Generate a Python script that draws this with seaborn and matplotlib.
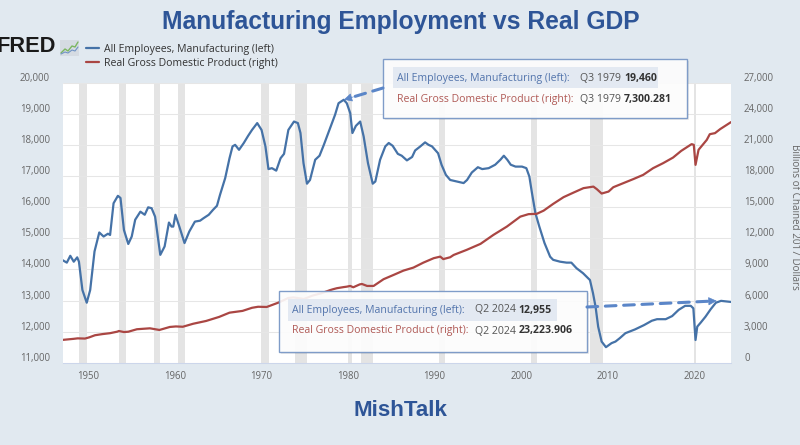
import matplotlib
matplotlib.use("Agg")
import matplotlib.pyplot as plt
import seaborn as sns
import pandas as pd
from matplotlib.ticker import FuncFormatter
from matplotlib.transforms import ScaledTranslation
from matplotlib.patches import Rectangle

# ---------------- data ----------------
emp_dates = [1947.00, 1947.50, 1947.90, 1948.30, 1948.70, 1948.90, 1949.30, 1949.80, 1950.20, 1950.70,
             1951.25, 1951.75, 1952.25, 1952.50, 1952.90, 1953.40, 1953.70, 1954.10, 1954.60, 1955.00,
             1955.40, 1956.00, 1956.50, 1956.90, 1957.30, 1957.70, 1958.30, 1958.80, 1959.30, 1959.60,
             1959.80, 1960.05, 1960.50, 1961.10, 1961.65, 1962.30, 1962.90, 1963.30, 1963.90, 1964.40,
             1964.85, 1965.20, 1965.80, 1966.30, 1966.65, 1966.95, 1967.40, 1967.95, 1968.45, 1968.90,
             1969.50, 1970.00, 1970.45, 1970.80, 1971.20, 1971.70, 1972.20, 1972.60, 1973.10, 1973.75,
             1974.20, 1974.50, 1974.85, 1975.25, 1975.60, 1976.20, 1976.70, 1977.20, 1977.85, 1978.50,
             1978.90, 1979.50, 1979.85, 1980.25, 1980.50, 1980.90, 1981.40, 1981.80, 1982.30, 1982.85,
             1983.15, 1983.70, 1984.30, 1984.70, 1985.15, 1985.75, 1986.20, 1986.80, 1987.40, 1987.75,
             1988.35, 1988.90, 1989.30, 1989.70, 1990.40, 1990.80, 1991.30, 1991.80, 1992.60, 1993.35,
             1993.75, 1994.30, 1995.00, 1995.50, 1996.25, 1997.00, 1997.60, 1998.00, 1998.40, 1998.80,
             1999.35, 2000.10, 2000.60, 2000.95, 2001.25, 2001.65, 2002.10, 2002.70, 2003.35, 2003.70,
             2004.50, 2005.25, 2005.80, 2006.40, 2007.15, 2007.95, 2008.30, 2008.60, 2008.90, 2009.30,
             2009.80, 2010.45, 2010.90, 2011.40, 2012.05, 2013.15, 2014.20, 2015.10, 2015.70, 2016.70,
             2017.45, 2018.20, 2018.95, 2019.60, 2019.90, 2020.15, 2020.35, 2020.75, 2021.30, 2021.90,
             2022.50, 2023.10, 2024.25]
emp_values = [14300, 14220, 14440, 14250, 14390, 14250, 13340, 12930, 13340, 14580,
              15190, 15060, 15150, 15110, 16130, 16370, 16300, 15270, 14820, 15060,
              15600, 15860, 15760, 16000, 15970, 15700, 14470, 14740, 15510, 15380,
              15380, 15760, 15380, 14850, 15220, 15540, 15570, 15650, 15760, 15920,
              16050, 16400, 16940, 17580, 17960, 18010, 17850, 18070, 18300, 18490,
              18710, 18490, 17960, 17230, 17260, 17180, 17580, 17720, 18490, 18760,
              18710, 18390, 17420, 16760, 16880, 17530, 17660, 18010, 18490, 18980,
              19350, 19460, 19350, 19030, 18390, 18620, 18760, 18280, 17420, 16760,
              16830, 17530, 17960, 18070, 17980, 17720, 17660, 17510, 17620, 17830,
              17960, 18090, 18010, 17960, 17740, 17370, 17045, 16880, 16830, 16780,
              16880, 17120, 17290, 17230, 17260, 17370, 17530, 17660, 17530, 17370,
              17310, 17310, 17260, 16990, 16460, 15810, 15380, 14850, 14410, 14310,
              14250, 14220, 14220, 14040, 13880, 13660, 13240, 12800, 12160, 11680,
              11500, 11630, 11680, 11790, 11950, 12070, 12210, 12350, 12400, 12400,
              12500, 12700, 12830, 12830, 12750, 11730, 12160, 12290, 12480, 12720,
              12930, 12990, 12955]

gdp_dates = [1947.00, 1948.25, 1948.75, 1949.60, 1950.10, 1950.75, 1951.60, 1952.50, 1953.35, 1953.50,
             1954.10, 1954.60, 1955.60, 1957.10, 1958.20, 1959.40, 1960.10, 1960.90, 1962.10, 1963.60,
             1965.10, 1966.30, 1967.80, 1968.90, 1969.60, 1970.60, 1971.95, 1973.10, 1973.70, 1974.90,
             1975.90, 1976.90, 1977.90, 1978.25, 1978.70, 1979.50, 1979.85, 1980.25, 1980.60, 1981.35,
             1981.60, 1982.20, 1982.95, 1984.10, 1985.25, 1986.40, 1987.55, 1988.70, 1989.90, 1990.65,
             1991.00, 1991.80, 1992.20, 1993.70, 1995.30, 1996.80, 1998.35, 1999.90, 2000.85, 2001.80,
             2002.60, 2003.70, 2004.90, 2006.05, 2007.20, 2008.35, 2008.75, 2009.30, 2010.10, 2010.65,
             2011.80, 2012.95, 2014.10, 2015.25, 2016.40, 2017.55, 2018.50, 2019.70, 2019.95, 2020.15,
             2020.50, 2021.45, 2021.80, 2022.40, 2023.00, 2024.25]
gdp_values = [2200, 2300, 2350, 2330, 2450, 2650, 2760, 2850, 3000, 3060,
              2960, 2990, 3230, 3320, 3160, 3450, 3500, 3470, 3760, 4030,
              4420, 4830, 5000, 5300, 5400, 5380, 5800, 6250, 6300, 6150,
              6480, 6700, 7000, 7090, 7190, 7300, 7340, 7410, 7280, 7560,
              7600, 7410, 7410, 8060, 8470, 8890, 9180, 9660, 10090, 10240,
              10000, 10180, 10400, 10890, 11470, 12340, 13140, 14100, 14340, 14370,
              14680, 15330, 15980, 16420, 16850, 17000, 16750, 16330, 16520, 16940,
              17330, 17720, 18130, 18780, 19260, 19800, 20450, 21100, 21030, 19100,
              20550, 21510, 22060, 22160, 22550, 23224]

recession_start = [1948.90, 1953.50, 1957.60, 1960.30, 1969.95, 1973.85, 1980.00, 1981.55, 1990.55, 2001.15, 2007.90, 2020.00]
recession_end   = [1949.80, 1954.35, 1958.30, 1961.15, 1970.85, 1975.20, 1980.50, 1982.85, 1991.15, 2001.85, 2009.45, 2020.20]

left_ticks = [11000, 12000, 13000, 14000, 15000, 16000, 17000, 18000, 19000, 20000]
right_ticks = [0, 3000, 6000, 9000, 12000, 15000, 18000, 21000, 24000, 27000]
x_ticks = [1950, 1960, 1970, 1980, 1990, 2000, 2010, 2020]

title_text = "Manufacturing Employment vs Real GDP"
footer_text = "MishTalk"
emp_label = "All Employees, Manufacturing (left)"
gdp_label = "Real Gross Domestic Product (right)"
left_unit = "Thousands of Persons"
right_unit = "Billions of Chained 2017 Dollars"

tip1_date, tip1_emp, tip1_gdp = "Q3 1979", "19,460", "7,300.281"
tip2_date, tip2_emp, tip2_gdp = "Q2 2024", "12,955", "23,223.906"
tip1_point = (1979.5, 19460)
tip2_point = (2022.6, 12990)

# ---------------- style ----------------
W, H = 800, 445
BG = "#E1E9F0"
BLUE = "#4572A7"
RED = "#AA4643"
AXC = "#CCD6EB"
TXT = "#666666"
TITLEC = "#2E5597"

sns.set_style("white")
plt.rcParams['font.family'] = ['Open Sans', 'DejaVu Sans']

fig = plt.figure(figsize=(W / 100, H / 100), dpi=100)
fig.patch.set_facecolor(BG)
renderer = fig.canvas.get_renderer()


def fit(s, target, family='Open Sans', weight='normal'):
    t = fig.text(0, 0, s, fontsize=10, family=family, weight=weight)
    w = t.get_window_extent(renderer=renderer).width
    t.remove()
    return 10 * target / w


L, R, T, B = 62.5, 731.0, 83.0, 362.7
ax = fig.add_axes([L / W, 1 - B / H, (R - L) / W, (B - T) / H])
ax.set_facecolor('white')
ax2 = ax.twinx()
ax2.patch.set_alpha(0)

for s, e in zip(recession_start, recession_end):
    ax.axvspan(s, e, color='#E4E4E4', lw=0, zorder=0.3)

emp_df = pd.DataFrame({'date': emp_dates, 'value': emp_values})
gdp_df = pd.DataFrame({'date': gdp_dates, 'value': gdp_values})
sns.lineplot(data=emp_df, x='date', y='value', ax=ax, color=BLUE, lw=1.6,
             estimator=None, sort=False, legend=False, zorder=3)
h_emp = ax.lines[-1]
sns.lineplot(data=gdp_df, x='date', y='value', ax=ax2, color=RED, lw=1.6,
             estimator=None, sort=False, legend=False, zorder=3)
h_gdp = ax2.lines[-1]

ax.set_xlim(1947.0, 2024.25)
ax.set_ylim(11000, 20000)
ax2.set_ylim(0, 27000)
ax.set_xlabel('')
ax.set_ylabel('')
ax2.set_xlabel('')
ax2.set_ylabel('')

tick_fs = fit("20,000", 30)
fmt = FuncFormatter(lambda v, p: f"{int(round(v)):,}")
ax.set_yticks(left_ticks)
ax.yaxis.set_major_formatter(fmt)
ax2.set_yticks(right_ticks)
ax2.yaxis.set_major_formatter(fmt)
ax.set_xticks(x_ticks)
ax.set_xticklabels([str(x) for x in x_ticks])

ax.tick_params(axis='y', length=0, pad=9.0, labelsize=tick_fs, labelcolor=TXT)
ax2.tick_params(axis='y', length=0, pad=9.4, labelsize=tick_fs, labelcolor=TXT)
ax.tick_params(axis='x', length=5.3, width=0.75, color=AXC, pad=1.0, labelsize=tick_fs, labelcolor=TXT)
up = ScaledTranslation(0, 0.06, fig.dpi_scale_trans)
for lbl in ax.get_yticklabels() + ax2.get_yticklabels():
    lbl.set_transform(lbl.get_transform() + up)

ax.yaxis.grid(True, color='#E6E6E6', lw=0.75, zorder=0.5)
ax.xaxis.grid(False)
ax.set_axisbelow(True)
for sp in ['top', 'left', 'right']:
    ax.spines[sp].set_visible(False)
ax.spines['bottom'].set_color(AXC)
ax.spines['bottom'].set_linewidth(0.75)
for sp in ax2.spines.values():
    sp.set_visible(False)

# ---------------- overlay in pixel coords ----------------
ov = fig.add_axes([0, 0, 1, 1], zorder=10)
ov.set_xlim(0, W)
ov.set_ylim(H, 0)
ov.axis('off')
ov.patch.set_alpha(0)

ov.text(401, 22, title_text, ha='center', va='center', color=TITLEC, weight='bold',
        family='Liberation Sans', fontsize=fit(title_text, 477, 'Liberation Sans', 'bold'))
ov.text(400, 411, footer_text, ha='center', va='center', color=TITLEC, weight='bold',
        family='Liberation Sans', fontsize=fit(footer_text, 94, 'Liberation Sans', 'bold'))

# FRED logo
ov.text(-4, 47, "FRED", ha='left', va='center', color='#1A1A1A', weight='bold',
        family='Liberation Sans', fontsize=fit("FRED", 59, 'Liberation Sans', 'bold'))
ov.add_patch(Rectangle((60, 40), 19, 16, fc='#D5DBE2', ec='none'))
ov.plot([61, 65, 68, 72, 75, 78], [53, 49, 51, 46, 47, 42], color='#7BB661', lw=1)
ov.plot([61, 65, 68, 72, 75, 78], [54, 52, 53, 50, 51, 47], color='#6F93C4', lw=0.8)

# legend
lg_fs = fit(emp_label, 171)
leg = fig.legend([h_emp, h_gdp], [emp_label, gdp_label], loc='upper left',
                 bbox_to_anchor=(86 / W, 1 - 44 / H), frameon=False, fontsize=lg_fs,
                 handlelength=13 / lg_fs / 1.389, handletextpad=5 / lg_fs / 1.389,
                 labelspacing=0.3, borderpad=0, borderaxespad=0)
for t in leg.get_texts():
    t.set_color('#333333')

# axis unit labels
ov.text(794.5, 217, right_unit, rotation=270, ha='center', va='center', color=TXT,
        fontsize=fit(right_unit, 145))
ov.text(-1.5, 220, left_unit, rotation=90, ha='center', va='center', color=TXT,
        fontsize=fit(left_unit, 106))


def tooltip(x0, y0, x1, y1, hx0, hx1, hy0, hy1, lx, row_y, date, vals):
    ov.add_patch(Rectangle((x0 + 2, y0 + 2), x1 - x0, y1 - y0, fc=(0, 0, 0, 0.08), ec='none'))
    ov.add_patch(Rectangle((x0, y0), x1 - x0, y1 - y0, fc=(1, 1, 1, 0.9), ec='#7F9CC8', lw=1))
    ov.add_patch(Rectangle((hx0, hy0), hx1 - hx0, hy1 - hy0, fc='#E3E9F2', ec='none'))
    fs = fit(emp_label + ":", 173)
    for (lab, col, val), ry in zip([(emp_label + ":", '#5274AC', vals[0]),
                                    (gdp_label + ":", '#B05A56', vals[1])], row_y):
        ov.text(lx, ry, lab, color=col, fontsize=fs, ha='left', va='center')
        td = ov.text(lx + 183, ry, date + " ", color='#555555', fontsize=fs, ha='left', va='center')
        w = td.get_window_extent(renderer=renderer).width
        ov.text(lx + 183 + w, ry, val, color='#333333', fontsize=fs, weight='bold', ha='left', va='center')


tooltip(383.3, 59, 687, 118, 392.7, 658, 66.7, 88.3, 397.3, [78.5, 99.5], tip1_date, [tip1_emp, tip1_gdp])
tooltip(279.3, 290.7, 587.3, 351.7, 288, 556.7, 299, 321, 291.7, [310, 331], tip2_date, [tip2_emp, tip2_gdp])


def dashed_arrow(start_px, point):
    dx, dy = ax.transData.transform(point)
    tip = (dx, H - dy)
    ov.annotate('', xy=tip, xytext=start_px,
                arrowprops=dict(arrowstyle='-', linestyle=(0, (3.5, 2.5)), color='#5B86C8', lw=2.2,
                                shrinkA=0, shrinkB=6))
    vx, vy = tip[0] - start_px[0], tip[1] - start_px[1]
    n = (vx ** 2 + vy ** 2) ** 0.5
    back = (tip[0] - vx / n * 10, tip[1] - vy / n * 10)
    ov.annotate('', xy=tip, xytext=back,
                arrowprops=dict(arrowstyle='-|>', color='#5B86C8', lw=0.5, mutation_scale=13,
                                shrinkA=0, shrinkB=0))


dashed_arrow((383, 88), tip1_point)
dashed_arrow((587, 307), tip2_point)

fig.savefig("out.png", dpi=100, facecolor=BG)
